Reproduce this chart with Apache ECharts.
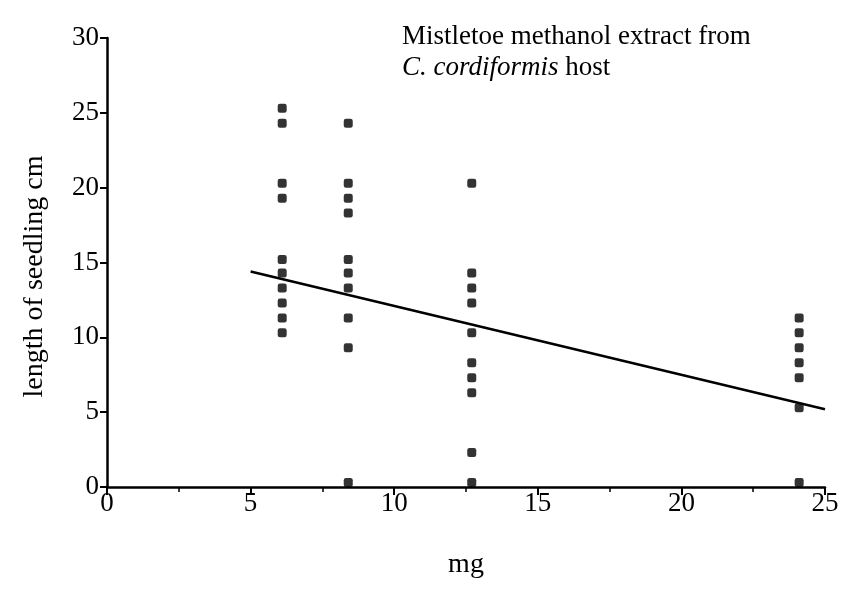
<!DOCTYPE html>
<html><head><meta charset="utf-8">
<script src="https://cdn.jsdelivr.net/npm/echarts@6/dist/echarts.min.js"></script>
<style>html,body{margin:0;padding:0;background:#fff}#c{width:845px;height:598px}</style>
</head><body><div id="c"></div>
<script>
const doseMg = [6.1, 8.4, 12.7, 24.1];
const lengths6 = [25.3, 24.3, 20.3, 19.3, 15.2, 14.3, 13.3, 12.3, 11.3, 10.3];
const lengths8 = [24.3, 20.3, 19.3, 18.3, 15.2, 14.3, 13.3, 11.3, 9.3, 0.3];
const lengths12 = [20.3, 14.3, 13.3, 12.3, 10.3, 8.3, 7.3, 6.3, 2.3, 0.3];
const lengths24 = [11.3, 10.3, 9.3, 8.3, 7.3, 5.3, 0.3];
const fitX = [5, 25];
const fitY = [14.4, 5.2];
const xTicks = [0, 5, 10, 15, 20, 25];
const yTicks = [0, 5, 10, 15, 20, 25, 30];

const groups = [lengths6, lengths8, lengths12, lengths24];
const pts = [];
groups.forEach((g, i) => g.forEach(v => pts.push([doseMg[i], v])));
const font = 'Liberation Serif';
const chart = echarts.init(document.getElementById('c'));
chart.setOption({
  animation: false,
  backgroundColor: '#fff',
  title: {
    left: 397, top: 16,
    text: '{a|Mistletoe methanol extract from}\n{i|C. cordiformis}{a| host}',
    textStyle: {
      fontWeight: 'normal',
      rich: {
        a: {fontFamily: font, fontSize: 27, fontWeight: 'normal', color: '#000', lineHeight: 31},
        i: {fontFamily: font, fontSize: 27, fontWeight: 'normal', color: '#000', fontStyle: 'italic', lineHeight: 31}
      }
    }
  },
  grid: {left: 107, right: 20, top: 38, bottom: 111},
  xAxis: {
    type: 'value', min: xTicks[0], max: xTicks[xTicks.length-1], interval: 5,
    name: 'mg', nameLocation: 'middle', nameGap: 64,
    nameTextStyle: {fontFamily: font, fontSize: 28, color: '#000'},
    axisLine: {show: true, onZero: false, lineStyle: {color: '#000', width: 2.5}},
    axisTick: {show: true, length: 8, lineStyle: {color: '#000', width: 2}},
    minorTick: {show: true, splitNumber: 2, length: 5, lineStyle: {color: '#000', width: 1.5}},
    axisLabel: {fontFamily: font, fontSize: 27, color: '#000', margin: 3},
    splitLine: {show: false}
  },
  yAxis: {
    type: 'value', min: yTicks[0], max: yTicks[yTicks.length-1], interval: 5,
    name: 'length of seedling cm', nameLocation: 'middle', nameGap: 58, nameRotate: 90,
    nameTextStyle: {fontFamily: font, fontSize: 28, color: '#000', padding: [0, 28, 0, 0]},
    axisLine: {show: true, lineStyle: {color: '#000', width: 2.5}},
    axisTick: {show: true, length: 7, lineStyle: {color: '#000', width: 2}},
    axisLabel: {fontFamily: font, fontSize: 27, color: '#000', margin: 8},
    splitLine: {show: false}
  },
  series: [
    {type: 'scatter', data: pts, symbol: 'roundRect', symbolSize: 9,
     itemStyle: {color: '#000'}, z: 3},
    {type: 'line', data: fitX.map((x, i) => [x, fitY[i]]), showSymbol: false,
     symbol: 'none', lineStyle: {color: '#000', width: 2.5}, z: 2}
  ]
});
</script></body></html>
